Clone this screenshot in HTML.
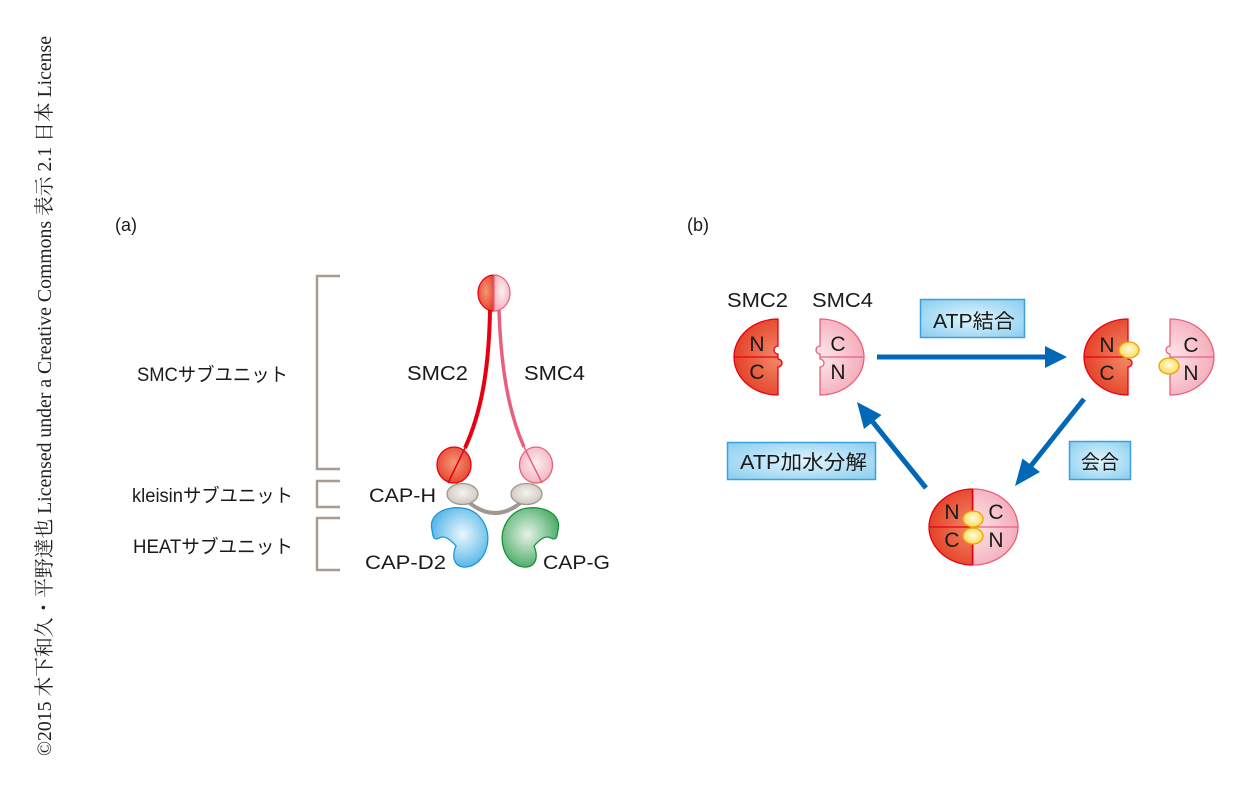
<!DOCTYPE html>
<html><head><meta charset="utf-8"><style>
html,body{margin:0;padding:0;background:#fff;}
svg{display:block;}
text{font-family:"Liberation Sans","Noto Sans CJK JP",sans-serif;fill:#1a1a1a;}
.wm{font-family:"Liberation Serif","Noto Serif CJK SC",serif;fill:#222;}
</style></head><body>
<svg width="1251" height="792" viewBox="0 0 1251 792" xmlns="http://www.w3.org/2000/svg">
<defs>
<radialGradient id="red" cx="50%" cy="45%" r="60%"><stop offset="0" stop-color="#f49878"/><stop offset="1" stop-color="#e6402a"/></radialGradient>
<radialGradient id="pink" cx="50%" cy="45%" r="60%"><stop offset="0" stop-color="#fdeef0"/><stop offset="1" stop-color="#f4b0bc"/></radialGradient>
<radialGradient id="gray" cx="50%" cy="45%" r="60%"><stop offset="0" stop-color="#f6f4f1"/><stop offset="1" stop-color="#cbc3bb"/></radialGradient>
<radialGradient id="blue" cx="55%" cy="45%" r="60%"><stop offset="0" stop-color="#eaf7fd"/><stop offset="1" stop-color="#4cb2e6"/></radialGradient>
<radialGradient id="green" cx="45%" cy="45%" r="60%"><stop offset="0" stop-color="#e6f3e6"/><stop offset="1" stop-color="#44a862"/></radialGradient>
<radialGradient id="atp" cx="50%" cy="45%" r="60%"><stop offset="0" stop-color="#fffbe0"/><stop offset="1" stop-color="#fcd84c"/></radialGradient>
<radialGradient id="box" cx="50%" cy="50%" r="65%"><stop offset="0" stop-color="#e2f5fd"/><stop offset="1" stop-color="#8ed0f0"/></radialGradient>
<radialGradient id="dred" gradientUnits="userSpaceOnUse" cx="0" cy="0" r="46"><stop offset="0" stop-color="#f28a6a"/><stop offset="1" stop-color="#e43e24"/></radialGradient>
<radialGradient id="dpink" gradientUnits="userSpaceOnUse" cx="0" cy="0" r="46"><stop offset="0" stop-color="#fde8ec"/><stop offset="1" stop-color="#f4aab8"/></radialGradient>
</defs>

<!-- watermark -->
<text class="wm" font-size="20" transform="translate(51,756) rotate(-90)" textLength="720" lengthAdjust="spacingAndGlyphs">©2015 木下和久・平野達也 Licensed under a Creative Commons 表示 2.1 日本 License</text>

<!-- (a) -->
<text x="115" y="231" font-size="18">(a)</text>
<text x="687" y="231" font-size="18">(b)</text>

<!-- brackets -->
<g fill="none" stroke="#a89b93" stroke-width="2.5">
<path d="M340,276 H317 V469 H340"/>
<path d="M340,481 H317 V507 H340"/>
<path d="M340,518 H317 V570 H340"/>
</g>
<text x="137" y="381" font-size="19" textLength="151" lengthAdjust="spacingAndGlyphs">SMCサブユニット</text>
<text x="132" y="502" font-size="19" textLength="161" lengthAdjust="spacingAndGlyphs">kleisinサブユニット</text>
<text x="133" y="553" font-size="19" textLength="160" lengthAdjust="spacingAndGlyphs">HEATサブユニット</text>

<!-- arms -->
<path d="M490,310 C489,370 481,413 465,448" fill="none" stroke="#e60012" stroke-width="4"/>
<path d="M499,310 C501,370 509,413 524,447" fill="none" stroke="#e8607c" stroke-width="3.5"/>

<!-- top head -->
<path d="M494,275 A16,18 0 0 0 494,311 Z" fill="url(#red)" stroke="#e60012" stroke-width="1.2"/>
<path d="M494,275 A16,18 0 0 1 494,311 Z" fill="url(#pink)" stroke="#e8607c" stroke-width="1.2"/>

<!-- bottom heads -->
<ellipse cx="454" cy="465" rx="17" ry="18" fill="url(#red)" stroke="#e60012" stroke-width="1.3"/>
<line x1="465" y1="448" x2="448" y2="483" stroke="#e60012" stroke-width="1.5"/>
<ellipse cx="536" cy="465" rx="16.5" ry="18" fill="url(#pink)" stroke="#e8607c" stroke-width="1.3"/>
<line x1="524" y1="447" x2="542" y2="483" stroke="#e8607c" stroke-width="1.5"/>

<!-- kleisin -->
<path d="M466,500 Q495,526 524,500" fill="none" stroke="#a09890" stroke-width="4"/>
<ellipse cx="462.5" cy="494" rx="15.5" ry="10.5" fill="url(#gray)" stroke="#a09890" stroke-width="1.3"/>
<ellipse cx="526.5" cy="494" rx="15.5" ry="10.5" fill="url(#gray)" stroke="#a09890" stroke-width="1.3"/>

<!-- HEAT -->
<path d="M432,530 C428,514 446,506 462,508 C480,510 491,528 487,546 C484,560 473,568 463,567 C455,566 451,558 456,546 C450,539 444,535 439,538 C433,541 433,536 432,530 Z" fill="url(#blue)" stroke="#1e96d8" stroke-width="1.3"/>
<path d="M558,530 C562,514 544,506 528,508 C510,510 499,528 503,546 C506,560 517,568 527,567 C535,566 539,558 534,546 C540,539 546,535 551,538 C557,541 557,536 558,530 Z" fill="url(#green)" stroke="#1a9040" stroke-width="1.3"/>

<text x="407" y="380" font-size="20" textLength="61" lengthAdjust="spacingAndGlyphs">SMC2</text>
<text x="524" y="380" font-size="20" textLength="61" lengthAdjust="spacingAndGlyphs">SMC4</text>
<text x="369" y="502" font-size="19" textLength="67" lengthAdjust="spacingAndGlyphs">CAP-H</text>
<text x="365" y="569" font-size="19" textLength="81" lengthAdjust="spacingAndGlyphs">CAP-D2</text>
<text x="543" y="569" font-size="19" textLength="67" lengthAdjust="spacingAndGlyphs">CAP-G</text>

<!-- (b) -->
<text x="727" y="307" font-size="20" textLength="61" lengthAdjust="spacingAndGlyphs">SMC2</text>
<text x="812" y="307" font-size="20" textLength="61" lengthAdjust="spacingAndGlyphs">SMC4</text>

<!-- left pair -->
<g transform="translate(778,357)">
<path d="M0,-38 L0,-11 A4,4 0 0 0 0,-3 L0,2 A4,4 0 0 1 0,10 L0,38 A44,38 0 0 1 0,-38 Z" fill="url(#dred)" stroke="#e60012" stroke-width="1.3"/>
<line x1="-44" y1="0" x2="0" y2="0" stroke="#e60012" stroke-width="1.2"/>
</g>
<g transform="translate(820,357)">
<path d="M0,-38 A44,38 0 0 1 0,38 L0,10 A4,4 0 0 0 0,2 L0,-3 A4,4 0 0 1 0,-11 Z" fill="url(#dpink)" stroke="#e8607c" stroke-width="1.3"/>
<line x1="0" y1="0" x2="44" y2="0" stroke="#e8607c" stroke-width="1.2"/>
</g>
<g font-size="21" text-anchor="middle">
<text x="757" y="351">N</text><text x="757" y="379">C</text>
<text x="838" y="351">C</text><text x="838" y="379">N</text>
</g>

<!-- top-right pair -->
<g transform="translate(1128,357)">
<path d="M0,-38 L0,-11 A4,4 0 0 0 0,-3 L0,2 A4,4 0 0 1 0,10 L0,38 A44,38 0 0 1 0,-38 Z" fill="url(#dred)" stroke="#e60012" stroke-width="1.3"/>
<line x1="-44" y1="0" x2="0" y2="0" stroke="#e60012" stroke-width="1.2"/>
</g>
<g transform="translate(1170,357)">
<path d="M0,-38 A44,38 0 0 1 0,38 L0,10 A4,4 0 0 0 0,2 L0,-3 A4,4 0 0 1 0,-11 Z" fill="url(#dpink)" stroke="#e8607c" stroke-width="1.3"/>
<line x1="0" y1="0" x2="44" y2="0" stroke="#e8607c" stroke-width="1.2"/>
</g>
<g font-size="21" text-anchor="middle">
<text x="1107" y="352">N</text><text x="1107" y="380">C</text>
<text x="1191" y="352">C</text><text x="1191" y="380">N</text>
</g>
<ellipse cx="1129" cy="350" rx="10" ry="8" fill="url(#atp)" stroke="#f0a000" stroke-width="1.3"/>
<ellipse cx="1169" cy="366" rx="10" ry="8" fill="url(#atp)" stroke="#f0a000" stroke-width="1.3"/>

<!-- bottom combined -->
<g transform="translate(973,527)">
<path d="M0,-38 A44,38 0 0 0 0,38 Z" fill="url(#dred)" stroke="#e60012" stroke-width="1.3"/>
<path d="M0,-38 A45,38 0 0 1 0,38 Z" fill="url(#dpink)" stroke="#e8607c" stroke-width="1.3"/>
<line x1="-44" y1="0" x2="0" y2="0" stroke="#e60012" stroke-width="1.2"/>
<line x1="0" y1="0" x2="45" y2="0" stroke="#e8607c" stroke-width="1.2"/>
<line x1="-0.5" y1="-38" x2="-0.5" y2="38" stroke="#e60012" stroke-width="1.5"/>
</g>
<g font-size="21" text-anchor="middle">
<text x="952" y="519">N</text><text x="952" y="547">C</text>
<text x="996" y="519">C</text><text x="996" y="547">N</text>
</g>
<ellipse cx="973" cy="519" rx="10" ry="8" fill="url(#atp)" stroke="#f0a000" stroke-width="1.3"/>
<ellipse cx="973" cy="536" rx="10" ry="8" fill="url(#atp)" stroke="#f0a000" stroke-width="1.3"/>

<!-- arrows -->
<g fill="#0068b6" stroke="none">
<rect x="877" y="354.5" width="172" height="5"/>
<polygon points="1045,346 1067,357 1045,368"/>
<line x1="926" y1="488" x2="872" y2="421" stroke="#0068b6" stroke-width="5"/>
<polygon points="857,402 881.5,415 864,429"/>
<line x1="1084" y1="399" x2="1030" y2="467" stroke="#0068b6" stroke-width="5"/>
<polygon points="1015,486 1022.5,458.5 1040,472"/>
</g>

<!-- boxes -->
<rect x="920.5" y="299.5" width="104" height="38" fill="url(#box)" stroke="#3ca0dc" stroke-width="1.5"/>
<text x="933" y="328" font-size="20" textLength="82" lengthAdjust="spacingAndGlyphs">ATP結合</text>
<rect x="727.5" y="442.5" width="148" height="37" fill="url(#box)" stroke="#3ca0dc" stroke-width="1.5"/>
<text x="740" y="469" font-size="20" textLength="127" lengthAdjust="spacingAndGlyphs">ATP加水分解</text>
<rect x="1069.5" y="441.5" width="61" height="38" fill="url(#box)" stroke="#3ca0dc" stroke-width="1.5"/>
<text x="1081" y="469" font-size="20" textLength="38" lengthAdjust="spacingAndGlyphs">会合</text>
</svg>
</body></html>
